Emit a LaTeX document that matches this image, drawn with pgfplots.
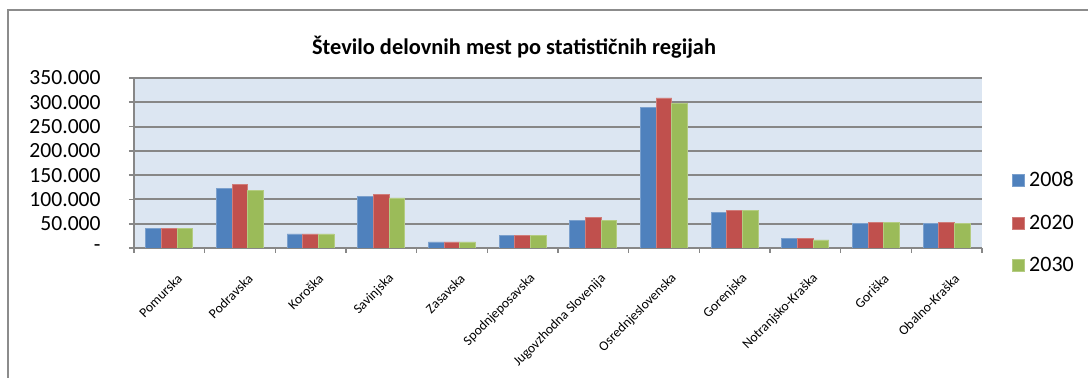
\documentclass[border=0pt]{standalone}
\usepackage{pgfplots}
\pgfplotsset{compat=1.18}
\usepackage{fontspec}
\setmainfont{Carlito}

\definecolor{c2008}{HTML}{4F81BD}
\definecolor{c2020}{HTML}{C0504D}
\definecolor{c2030}{HTML}{9BBB59}
\definecolor{plotbg}{HTML}{DCE6F2}
\definecolor{gridgray}{HTML}{878787}
\definecolor{framegray}{HTML}{8C8C8C}

% Employment per statistical region (number of jobs)
\pgfplotstableread{
idx  y2008  y2020  y2030
0    40500  40500  40500
1    122000 130500 119000
2    29000  29000  29000
3    106000 110000 103000
4    12500  12500  12500
5    25000  25000  25000
6    57000  62000  57000
7    289000 309000 297000
8    73500  77500  77500
9    20500  20500  16500
10   50000  53500  53500
11   50000  53500  50000
}\jobs

\begin{document}
\begin{tikzpicture}
\useasboundingbox (0,0) rectangle (544pt,189pt);
% chart frame
\draw[framegray, line width=1pt] (4pt,-2pt) -- (4pt,184pt) -- (546pt,184pt);
% title
\node[font=\bfseries\fontsize{11.2}{13}\selectfont] at (257pt,165.5pt)
  {Število delovnih mest po statističnih regijah};
\begin{axis}[
  at={(67pt,65pt)}, anchor=south west,
  scale only axis, width=424pt, height=85pt,
  axis background/.style={fill=plotbg},
  ybar=0pt, bar width=7.85pt,
  xmin=-0.5, xmax=11.5, ymin=0, ymax=350000,
  scaled y ticks=false,
  axis x line*=bottom, axis y line*=left,
  axis line style={gridgray, line width=1pt},
  ymajorgrids, grid style={gridgray, line width=1pt},
  ytick={0,50000,...,350000},
  yticklabels={-\hspace{5pt},50.000,100.000,150.000,200.000,250.000,300.000,350.000},
  yticklabel style={font=\fontsize{10.8}{12}\selectfont, anchor=east, inner sep=0pt, xshift=-14pt},
  tick align=outside, major tick length=2.5pt,
  ytick style={gridgray, line width=0.8pt},
  xtick={0,...,11},
  xticklabels={Pomurska,Podravska,Koroška,Savinjska,Zasavska,Spodnjeposavska,Jugovzhodna Slovenija,Osrednjeslovenska,Gorenjska,Notranjsko-Kraška,Goriška,Obalno-Kraška},
  xticklabel style={font=\fontsize{6.8}{8}\selectfont, rotate=45, anchor=east, inner sep=0pt, xshift=-4.5pt, yshift=-12pt},
  xtick style={draw=none},
  extra x ticks={-0.5,0.5,...,11.5},
  extra x tick labels={},
  extra x tick style={grid=none, xtick style={draw=gridgray, line width=0.8pt}},
  legend style={at={(1,0.147)}, anchor=west, xshift=15pt, draw=none, fill=none,
    font=\fontsize{11}{12}\selectfont, row sep=8.5pt, inner sep=0pt,
    nodes={inner sep=2pt}},
  legend cell align=left,
  legend image code/.code={\fill[#1] (0pt,-3pt) rectangle (6pt,3pt);},
]
\addplot[fill=c2008, draw=c2008!75!white, line width=0.4pt] table[x=idx, y=y2008] {\jobs};
\addplot[fill=c2020, draw=c2020!75!white, line width=0.4pt] table[x=idx, y=y2020] {\jobs};
\addplot[fill=c2030, draw=c2030!75!white, line width=0.4pt] table[x=idx, y=y2030] {\jobs};
\legend{2008,2020,2030}
\end{axis}
\end{tikzpicture}
\end{document}
